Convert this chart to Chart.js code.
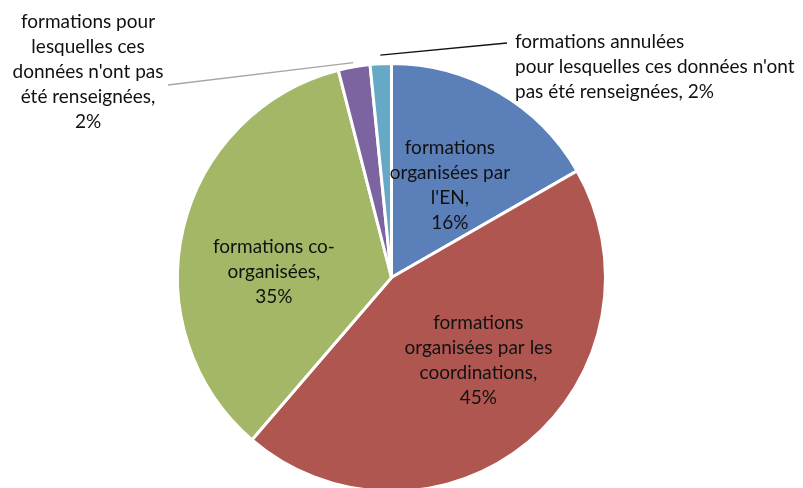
<!DOCTYPE html>
<html>
<head>
<meta charset="utf-8">
<script src="https://cdn.jsdelivr.net/npm/chart.js@4"></script>
<style>
  html, body { margin: 0; padding: 0; background: #fff; overflow: hidden; }
  #wrap { width: 803px; height: 488px; overflow: hidden; }
</style>
</head>
<body>
<div id="wrap"><canvas id="pieChart" width="803" height="493"></canvas></div>
<script>
// pie data (share of trainings, %)
var categories = [
    ["formations", "organisées par", "l'EN,"],
    ["formations", "organisées par les", "coordinations,"],
    ["formations co-", "organisées,"],
    ["formations pour", "lesquelles ces", "données n'ont pas", "été renseignées,"],
    ["formations annulées", "pour lesquelles ces données n'ont", "pas été renseignées, 2%"]
];
var values = [16.7, 44.6, 34.7, 2.4, 1.6];
var shownPct = ["16%", "45%", "35%", "2%", "2%"];
var colors = ["#5b7fb9", "#b05651", "#a3b766", "#7b64a0", "#66a9c6"];

var FONT = "19px Lato, 'Open Sans', sans-serif";
var LINE_H = 25;

// draws the data labels, inside for big slices, with leader lines for small ones
var labelPlugin = {
    id: 'pieLabels',
    afterDatasetsDraw: function (chart) {
        var ctx = chart.ctx;
        var arcs = chart.getDatasetMeta(0).data;
        ctx.save();
        ctx.font = FONT;
        ctx.fillStyle = "#111";
        ctx.textBaseline = "middle";

        // inside labels
        var inside = [{i: 0, f: 0.51, da: 0.04}, {i: 1, f: 0.56, da: -0.12}, {i: 2, f: 0.55, da: -0.18}];
        inside.forEach(function (o) {
            var a = arcs[o.i];
            var mid = (a.startAngle + a.endAngle) / 2 + o.da;
            var r = a.outerRadius * o.f;
            var cx = a.x + Math.cos(mid) * r;
            var cy = a.y + Math.sin(mid) * r;
            var lines = categories[o.i].concat([shownPct[o.i]]);
            ctx.textAlign = "center";
            var y0 = cy - (lines.length - 1) * LINE_H / 2;
            lines.forEach(function (t, k) { ctx.fillText(t, cx, y0 + k * LINE_H); });
        });

        // purple slice: label at left
        var p = arcs[3];
        var pm = (p.startAngle + p.endAngle) / 2;
        ctx.strokeStyle = "#a6a6a6";
        ctx.lineWidth = 1.3;
        ctx.beginPath();
        ctx.moveTo(p.x + Math.cos(pm) * p.outerRadius * 1.02, p.y + Math.sin(pm) * p.outerRadius * 1.02);
        ctx.lineTo(168, 85);
        ctx.stroke();
        var pl = categories[3].concat([shownPct[3]]);
        ctx.textAlign = "center";
        pl.forEach(function (t, k) { ctx.fillText(t, 88, 22 + k * LINE_H); });

        // aqua slice: label at top right
        var q = arcs[4];
        var qm = (q.startAngle + q.endAngle) / 2;
        ctx.strokeStyle = "#111";
        ctx.beginPath();
        ctx.moveTo(q.x + Math.cos(qm) * q.outerRadius * 1.04, q.y + Math.sin(qm) * q.outerRadius * 1.04);
        ctx.lineTo(507, 43);
        ctx.stroke();
        ctx.textAlign = "left";
        categories[4].forEach(function (t, k) { ctx.fillText(t, 515, 42 + k * LINE_H); });
        ctx.restore();
    }
};

var ctx = document.getElementById("pieChart").getContext('2d');
var myPieChart = new Chart(ctx, {
    type: 'pie',
    data: {
        labels: categories.map(function (c) { return c.join(" "); }),
        datasets: [{
            data: values,
            backgroundColor: colors,
            borderColor: "#ffffff",
            borderWidth: 3
        }]
    },
    options: {
        responsive: false,
        animation: false,
        layout: { padding: { left: 176, right: 196, top: 62, bottom: 0 } },
        plugins: {
            legend: { display: false },
            tooltip: { enabled: false }
        }
    },
    plugins: [labelPlugin]
});
</script>
</body>
</html>
